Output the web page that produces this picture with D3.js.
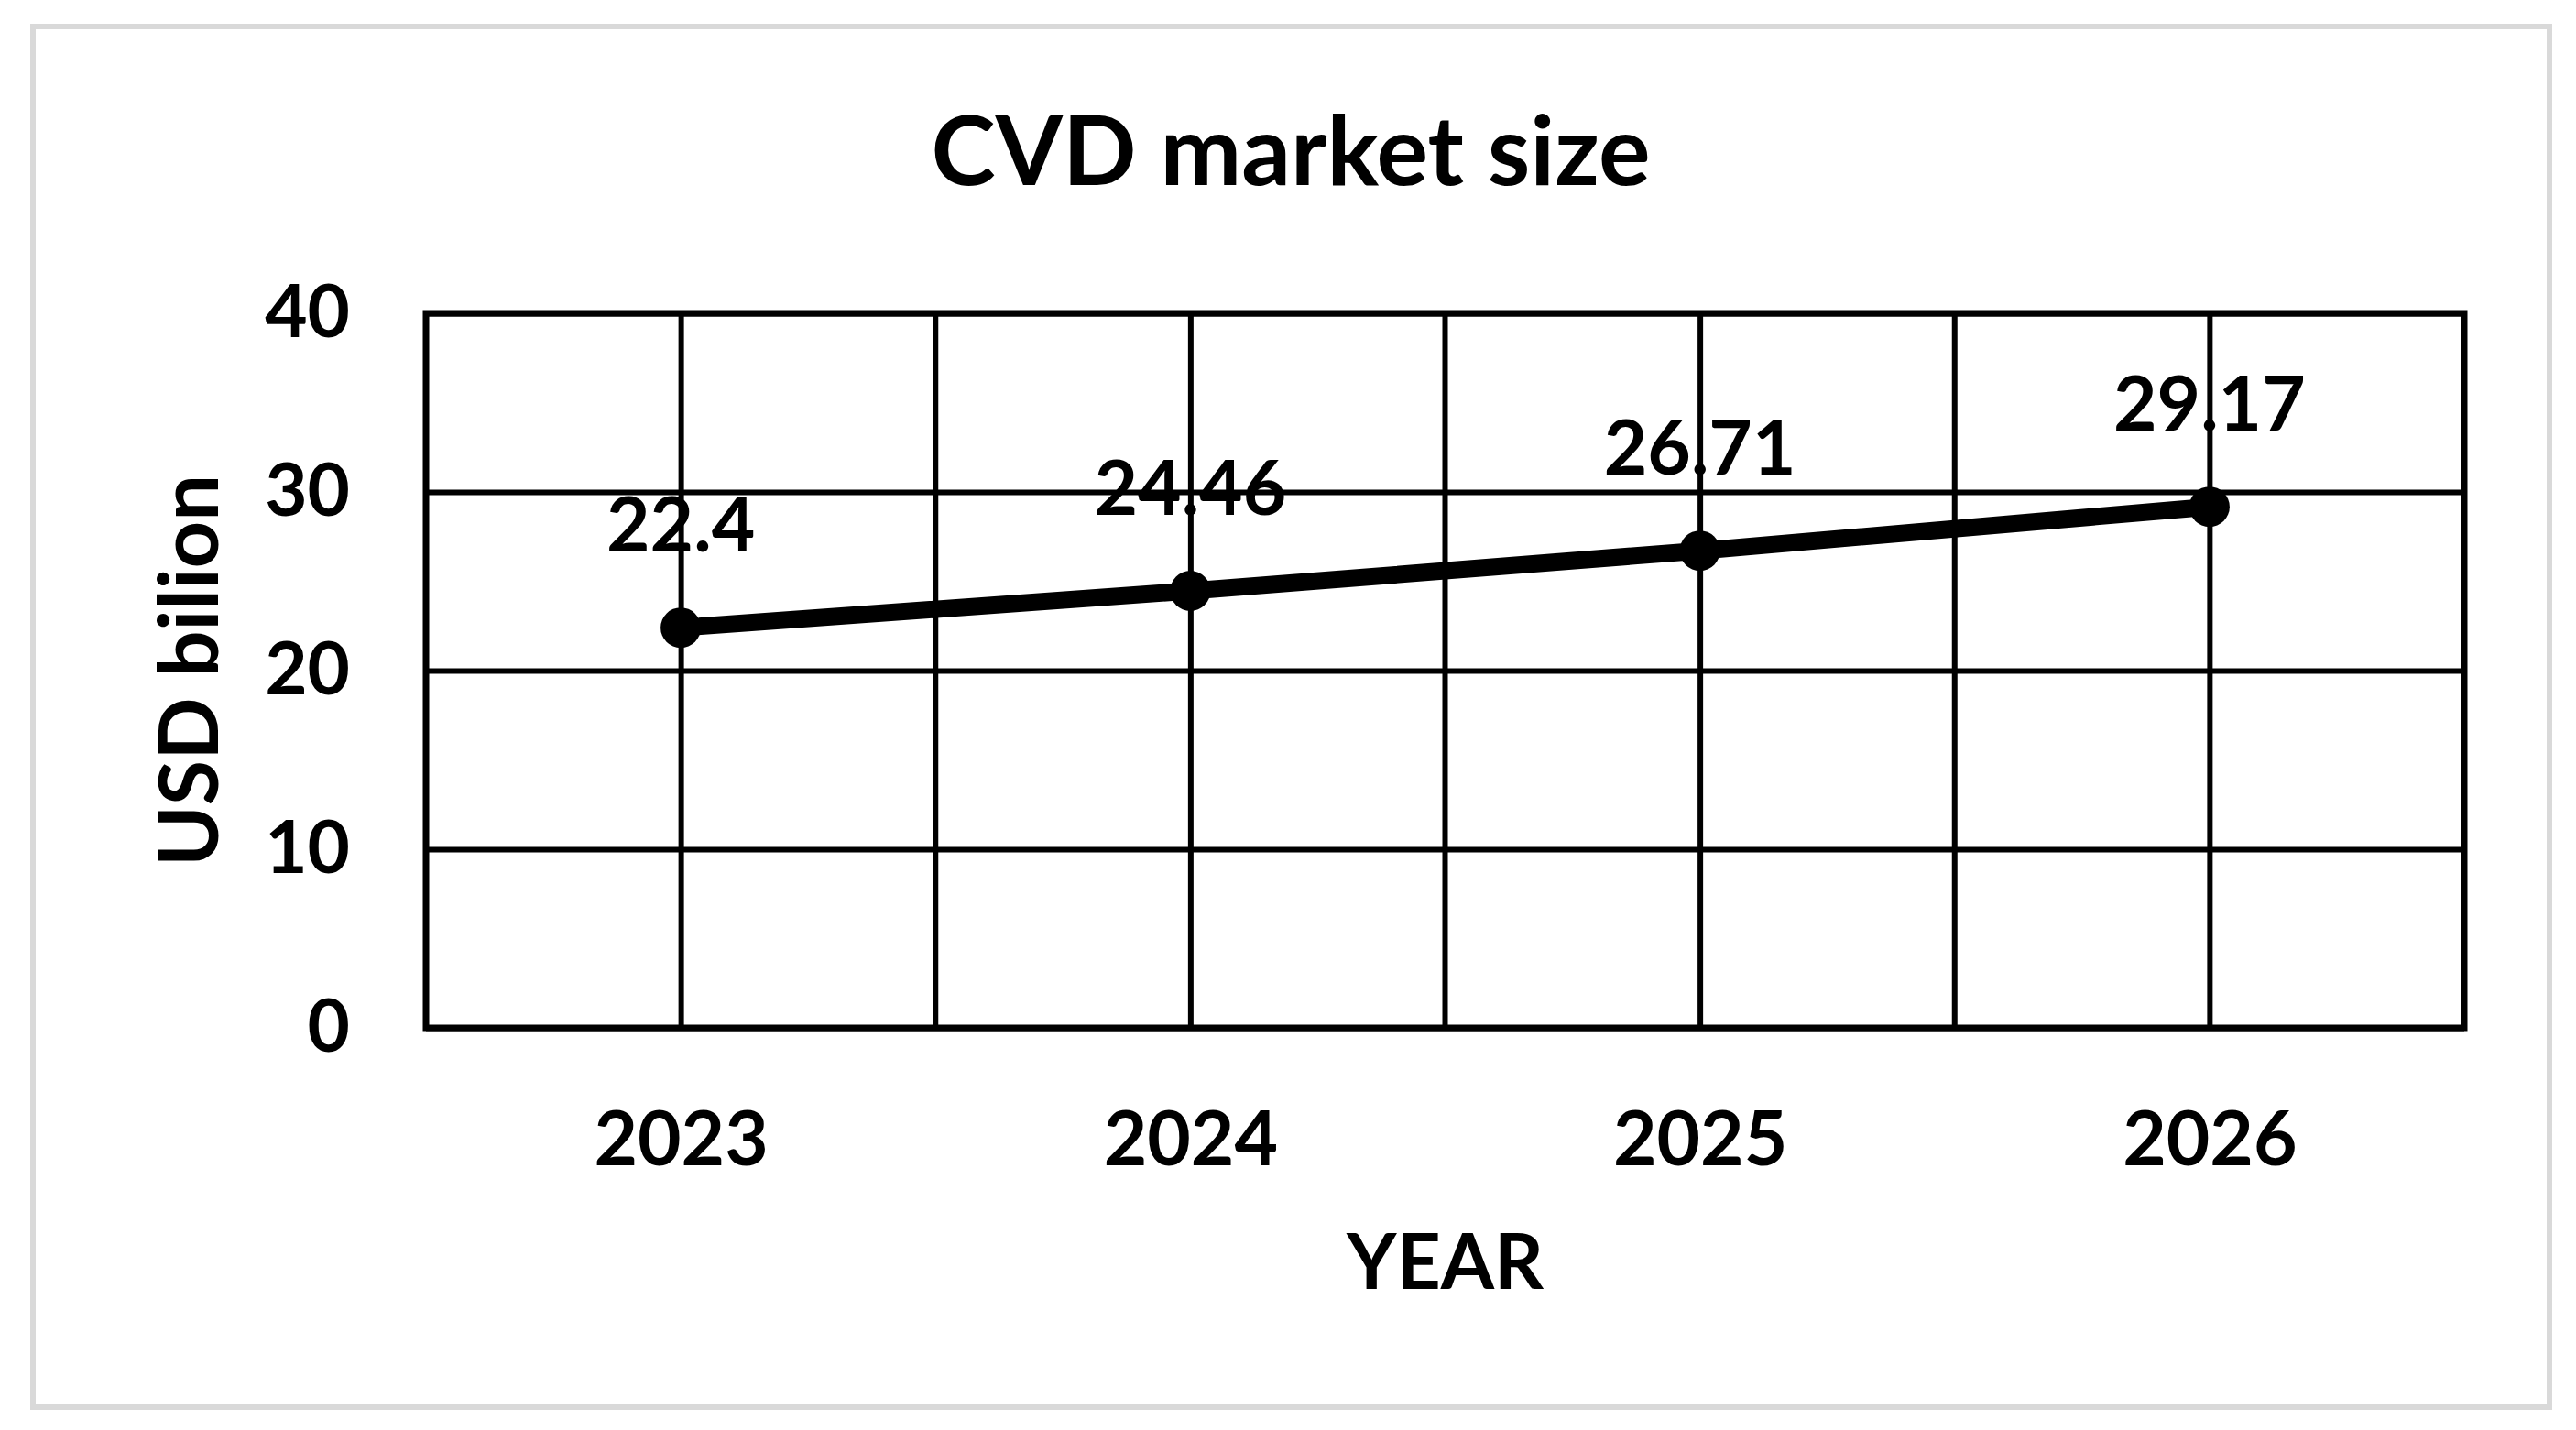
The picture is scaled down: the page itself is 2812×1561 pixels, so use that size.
<!DOCTYPE html>
<html lang="en">
    <head>
        <meta charset="UTF-8">
        <script src="https://cdn.jsdelivr.net/npm/d3@7"></script>
        <title>CVD market size</title>
        <style>
            body { margin: 0; background: #fff; }
            svg text { font-family: Lato, "Noto Sans", sans-serif; font-weight: bold; fill: #000; }
            .axis .domain { display: none; }
            .axis .tick line { stroke: #000; stroke-width: 6; }
        </style>
    </head>
    <body>
        <svg id="canvas" width="2812" height="1561"></svg>

        <script>
            // chart values
            var years  = ["2023", "2024", "2025", "2026"],
                market = [22.4, 24.46, 26.71, 29.17],
                yTicks = [0, 10, 20, 30, 40];

            // note: "top" is taken by window.top, so plot* names
            var svg = d3.select("svg#canvas"),
                plotLeft = 465, plotRight = 2690, plotTop = 342, plotBottom = 1122,
                plotW = plotRight - plotLeft, plotH = plotBottom - plotTop;

            var x = d3.scalePoint().domain(years).range([plotLeft, plotRight]).padding(0.5),
                y = d3.scaleLinear().domain([0, 40]).range([plotBottom, plotTop]);

            // outer frame
            svg.append("rect")
                .attr("x", 36).attr("y", 29)
                .attr("width", 2747).attr("height", 1507)
                .attr("fill", "none")
                .attr("stroke", "#d9d9d9")
                .attr("stroke-width", 6);

            svg.append("text")
                .attr("x", 1409).attr("y", 202)
                .attr("text-anchor", "middle")
                .style("font-size", "106px")
                .text("CVD market size");

            // horizontal gridlines + y labels
            svg.append("g")
                .attr("class", "axis")
                .attr("transform", "translate(" + plotLeft + ",0)")
                .call(d3.axisLeft(y).tickValues(yTicks).tickSize(-plotW).tickPadding(83))
                .call(function(g) {
                    g.selectAll("text").style("font-size", "80px");
                });

            // vertical gridlines at the categories + x labels
            svg.append("g")
                .attr("class", "axis")
                .attr("transform", "translate(0," + plotBottom + ")")
                .call(d3.axisBottom(x).tickSize(-plotH).tickPadding(92))
                .call(function(g) {
                    g.selectAll("text").style("font-size", "82px");
                });

            // vertical gridlines between categories
            svg.append("g").selectAll("line")
                .data(years.slice(1))
                .enter().append("line")
                .attr("x1", function(d) { return x(d) - x.step() / 2; })
                .attr("x2", function(d) { return x(d) - x.step() / 2; })
                .attr("y1", plotTop).attr("y2", plotBottom)
                .attr("stroke", "#000")
                .attr("stroke-width", 6);

            svg.append("rect")
                .attr("x", plotLeft).attr("y", plotTop)
                .attr("width", plotW).attr("height", plotH)
                .attr("fill", "none")
                .attr("stroke", "#000")
                .attr("stroke-width", 7);

            var pts = years.map(function(d, i) { return [x(d), y(market[i])]; });

            svg.append("path")
                .attr("d", d3.line()(pts))
                .attr("fill", "none")
                .attr("stroke", "#000")
                .attr("stroke-width", 19);

            svg.append("g").selectAll("circle")
                .data(pts)
                .enter().append("circle")
                .attr("cx", function(d) { return d[0]; })
                .attr("cy", function(d) { return d[1]; })
                .attr("r", 22)
                .attr("fill", "#000");

            svg.append("g").selectAll("text")
                .data(market)
                .enter().append("text")
                .attr("x", function(d, i) { return x(years[i]); })
                .attr("y", function(d) { return y(d) - 83; })
                .attr("text-anchor", "middle")
                .style("font-size", "82px")
                .text(function(d) { return String(d); });

            // axis titles
            svg.append("text")
                .attr("x", (plotLeft + plotRight) / 2).attr("y", 1407)
                .attr("text-anchor", "middle")
                .style("font-size", "84px")
                .text("YEAR");

            svg.append("text")
                .attr("transform", "translate(238," + ((plotTop + plotBottom) / 2) + ") rotate(-90)")
                .attr("text-anchor", "middle")
                .style("font-size", "90px")
                .text("USD bilion");
        </script>
    </body>
</html>
